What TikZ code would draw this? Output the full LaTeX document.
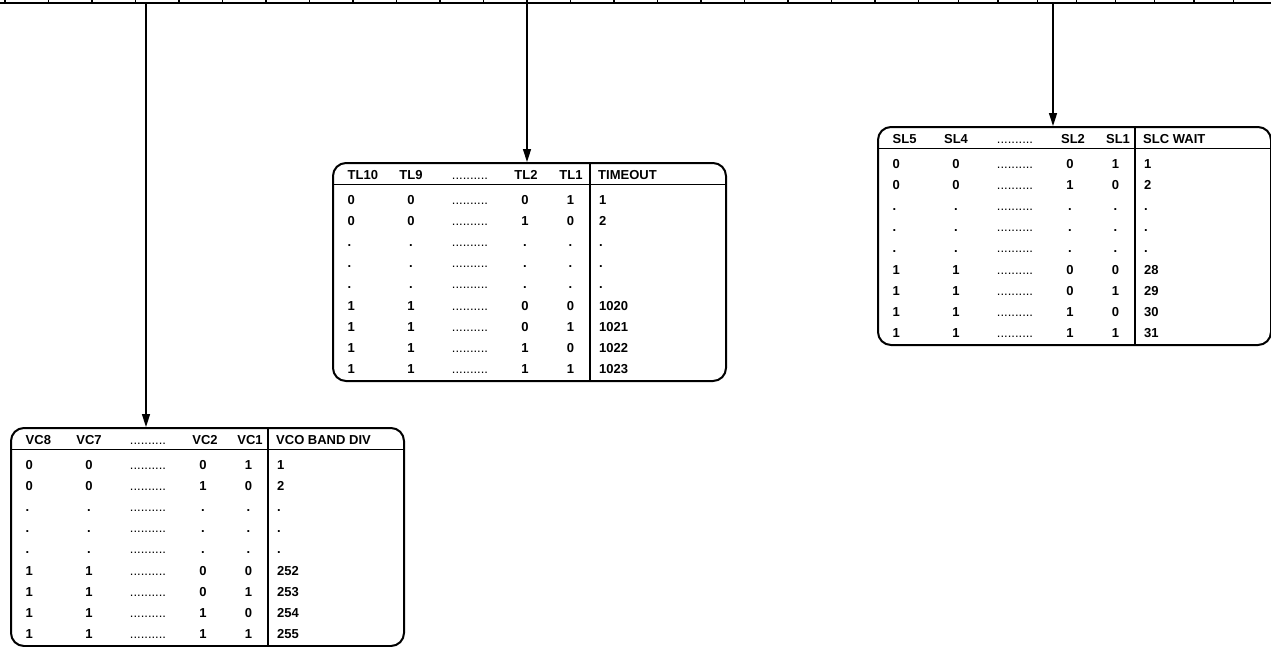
\documentclass[tikz,border=0pt]{standalone}
\usepackage{fontspec}
\setmainfont{Liberation Sans}
\usetikzlibrary{arrows.meta, positioning}

%% one bit table: name, left, top, header list, value list
\newcommand{\bittable}[5]{%
  \node[tbl, anchor=north west] (#1) at (#2,#3) {};
  \draw[rule] ([yshift=-22.5pt]#1.north west) -- ([yshift=-22.5pt]#1.north east);
  \draw[rule] ([xshift=258pt]#1.north west) -- ([xshift=258pt]#1.south west);
  %% header
  \foreach \hx/\ha/\hlabel [count=\c] in {#4}
    \node[cell, anchor=\ha] (#1-h\c) at ([shift={(\hx pt,-17.5pt)}]#1.north west) {\hlabel};
  %% bit columns
  \foreach \a/\b/\d/\e [count=\r] in {0/0/0/1, 0/0/1/0, ./././., ./././., ./././.,
                                       1/1/0/0, 1/1/0/1, 1/1/1/0, 1/1/1/1} {
    \node[cell, anchor=base west] (#1-\r-1) at ([shift={(15.5pt,{-42pt-21.2pt*(\r-1)})}]#1.north west) {\a};
    \node[cell, anchor=base] (#1-\r-2) at ([shift={(79pt,{-42pt-21.2pt*(\r-1)})}]#1.north west) {\b};
    \node[cell, anchor=base] (#1-\r-3) at ([shift={(138pt,{-42pt-21.2pt*(\r-1)})}]#1.north west) {\filler};
    \node[cell, anchor=base] (#1-\r-4) at ([shift={(193pt,{-42pt-21.2pt*(\r-1)})}]#1.north west) {\d};
    \node[cell, anchor=base] (#1-\r-5) at ([shift={(238.5pt,{-42pt-21.2pt*(\r-1)})}]#1.north west) {\e};
  }
  %% result column
  \foreach \v [count=\r] in {#5}
    \node[cell, anchor=base west] (#1-\r-6) at ([shift={(267pt,{-42pt-21.2pt*(\r-1)})}]#1.north west) {\v};
}
\newcommand{\filler}{\mdseries..........}

\begin{document}
\begin{tikzpicture}[
    x=1pt, y=-1pt,
    tbl/.style={draw, line width=2pt, rounded corners=13pt,
                minimum width=393pt, minimum height=218pt, inner sep=0pt},
    rule/.style={line width=1.8pt},
    bus/.style={line width=2pt},
    tick/.style={line width=1.2pt},
    arrow/.style={-{Triangle[length=13pt, width=8pt]}, line width=1.5pt},
    cell/.style={font=\fontsize{13}{15}\selectfont\bfseries, inner sep=0pt}
  ]
    \useasboundingbox (0,0) rectangle (1271,646);

    %% register line on top
    \coordinate (busL) at (0,3);
    \coordinate (busR) at (1271,3);
    \draw[bus] (busL) -- (busR);
    \foreach \i in {0,...,21}
      \draw[tick] ({5+43.5*\i},0) -- ({5+43.5*\i},3);
    \foreach \i in {1,...,8}
      \draw[tick] ({919.5+39.2*\i},0) -- ({919.5+39.2*\i},3);

    %% tables
    \bittable{vco}{10}{427}{15.5/base west/VC8, 79/base/VC7, 138/base/\filler,
      195/base/VC2, 240/base/VC1, 266/base west/VCO BAND DIV}
      {1, 2, ., ., ., 252, 253, 254, 255}
    \bittable{tmo}{332}{162}{15.5/base west/TL10, 79/base/TL9, 138/base/\filler,
      194/base/TL2, 239/base/TL1, 266/base west/TIMEOUT}
      {1, 2, ., ., ., 1020, 1021, 1022, 1023}
    \bittable{slc}{877}{126}{15.5/base west/SL5, 79/base/SL4, 138/base/\filler,
      196/base/SL2, 241/base/SL1, 266/base west/SLC WAIT}
      {1, 2, ., ., ., 28, 29, 30, 31}

    %% taps down to the tables
    \coordinate (tapvco) at (146,3);
    \coordinate (taptmo) at (527,3);
    \coordinate (tapslc) at (1053,3);
    \draw[arrow] (tapvco) -- (tapvco |- vco.north);
    \draw[arrow] (taptmo) -- (taptmo |- tmo.north);
    \draw[arrow] (tapslc) -- (tapslc |- slc.north);
  \end{tikzpicture}
\end{document}
